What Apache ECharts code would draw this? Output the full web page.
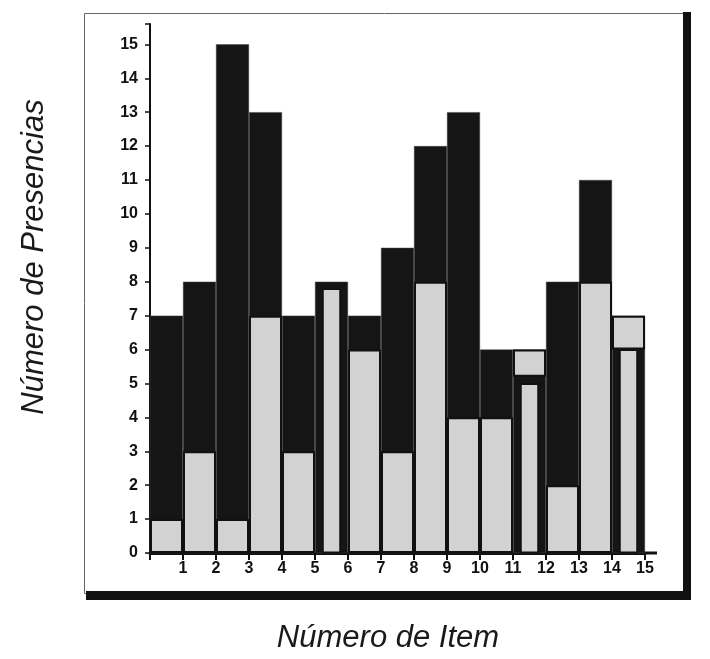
<!DOCTYPE html>
<html>
<head>
<meta charset="utf-8">
<script src="https://cdn.jsdelivr.net/npm/echarts@6/dist/echarts.min.js"></script>
<style>
html,body{margin:0;padding:0;background:#fff;}
#chart{width:710px;height:659px;}
</style>
</head>
<body>
<div id="chart"></div>
<script>
// ---- data ----
const categories = ['1','2','3','4','5','6','7','8','9','10','11','12','13','14','15'];
const darkValues   = [7, 8, 15, 13, 7, 8, 7, 9, 12, 13, 6, 6, 8, 11, 7];
const lightValues  = [1, 3, 1, 7, 3, null, 6, 3, 8, 4, 4, null, 2, 8, null];
const narrowValues = [null, null, null, null, null, 7.8, null, null, null, null, null, 5, null, null, 6];
const capBottom    = [null, null, null, null, null, null, null, null, null, null, null, 5.2, null, null, 6];
const capTop       = [null, null, null, null, null, null, null, null, null, null, null, 6, null, null, 7];
const xTickLabels  = ['1','2','3','4','5','6','7','8','9','10','11','12','13','14','15'];
const yTickLabels  = ['0','1','2','3','4','5','6','7','8','9','10','11','12','13','14','15'];
const yTitle = 'Número de Presencias';
const xTitle = 'Número de Item';

const dash = v => (v === null ? '-' : v);
const capSize = capTop.map((t, i) => (t === null ? null : +(t - capBottom[i]).toFixed(2)));

const DARK = '#151515';
const LIGHT = '#d2d2d2';
const INK = '#111';

const chart = echarts.init(document.getElementById('chart'), null, {renderer: 'canvas'});
chart.setOption({
  backgroundColor: '#fff',
  animation: false,
  grid: {left: 150, right: 65, top: 24, bottom: 106, containLabel: false},
  xAxis: [
    {
      type: 'category', data: categories, boundaryGap: true,
      axisLine: {show: true, lineStyle: {color: INK, width: 3}},
      axisTick: {show: false}, axisLabel: {show: false}, splitLine: {show: false}
    },
    {
      type: 'value', min: 0, max: xTickLabels.length, interval: 1, position: 'bottom',
      axisLine: {show: false},
      axisTick: {show: true, length: 7, lineStyle: {color: INK, width: 2}},
      axisLabel: {
        show: true, margin: 8, color: INK, fontSize: 16, fontWeight: 'bold',
        fontFamily: 'Liberation Sans, Arial, sans-serif',
        formatter: v => (v >= 1 ? xTickLabels[v - 1] : '')
      },
      splitLine: {show: false}
    },
    {type: 'category', data: categories, boundaryGap: true, show: false}
  ],
  yAxis: {
    type: 'value', min: 0, max: 15.6, interval: 1,
    axisLine: {show: true, lineStyle: {color: INK, width: 2}},
    axisTick: {show: true, length: 5, lineStyle: {color: INK, width: 1.5}},
    axisLabel: {
      show: true, margin: 12, color: INK, fontSize: 16, fontWeight: 'bold',
      fontFamily: 'Liberation Sans, Arial, sans-serif',
      formatter: v => (Number.isInteger(v) ? yTickLabels[v] : '')
    },
    splitLine: {show: false}
  },
  series: [
    {
      name: 'total', type: 'bar', xAxisIndex: 0, data: darkValues.map(dash),
      barWidth: '100%', barGap: '-100%', z: 1,
      itemStyle: {color: DARK, borderColor: '#444', borderWidth: 0.5}
    },
    {
      name: 'light', type: 'bar', xAxisIndex: 0, data: lightValues.map(dash),
      barWidth: '100%', barGap: '-100%', z: 2,
      itemStyle: {color: LIGHT, borderColor: INK, borderWidth: 2}
    },
    {
      name: 'capBase', type: 'bar', xAxisIndex: 0, stack: 'cap', data: capBottom.map(dash),
      barWidth: '100%', barGap: '-100%', z: 3, silent: true,
      itemStyle: {color: 'rgba(0,0,0,0)', borderWidth: 0}
    },
    {
      name: 'cap', type: 'bar', xAxisIndex: 0, stack: 'cap', data: capSize.map(dash),
      barWidth: '100%', barGap: '-100%', z: 4,
      itemStyle: {color: LIGHT, borderColor: INK, borderWidth: 2}
    },
    {
      name: 'narrow', type: 'bar', xAxisIndex: 2, data: narrowValues.map(dash),
      barWidth: '56%', z: 5,
      itemStyle: {color: LIGHT, borderColor: INK, borderWidth: 1.5}
    }
  ],
  graphic: [
    {type: 'rect', z: -1, shape: {x: 84.5, y: 13.5, width: 600, height: 580}, style: {fill: 'none', stroke: '#666', lineWidth: 1}},
    {type: 'rect', shape: {x: 683, y: 12, width: 8, height: 588}, style: {fill: '#111'}},
    {type: 'rect', shape: {x: 86, y: 591, width: 605, height: 9}, style: {fill: '#111'}},
    {type: 'line', shape: {x1: 644, y1: 553, x2: 657, y2: 553}, style: {stroke: INK, lineWidth: 3}},
    {
      type: 'text', x: 34, y: 257, rotation: Math.PI / 2,
      style: {text: yTitle, font: 'italic 31px "Liberation Sans", Arial, sans-serif', fill: '#1a1a1a', textAlign: 'center', textVerticalAlign: 'middle'}
    },
    {
      type: 'text', x: 388, y: 638,
      style: {text: xTitle, font: 'italic 31px "Liberation Sans", Arial, sans-serif', fill: '#1a1a1a', textAlign: 'center', textVerticalAlign: 'middle'}
    }
  ]
});
</script>
</body>
</html>
